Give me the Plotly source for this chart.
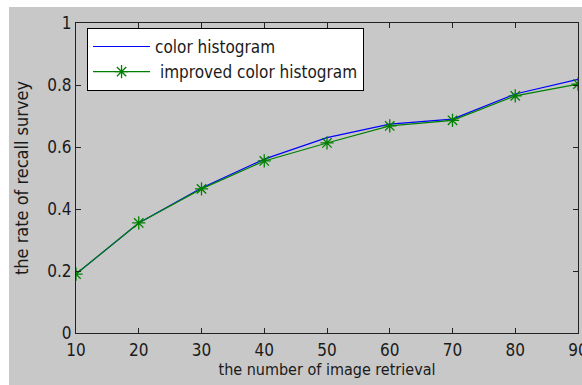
import plotly.graph_objects as go

x_vals = [10, 20, 30, 40, 50, 60, 70, 80, 90]
color_hist = [0.19, 0.355, 0.468, 0.561, 0.630, 0.674, 0.690, 0.771, 0.818]
improved_hist = [0.19, 0.355, 0.465, 0.555, 0.613, 0.668, 0.686, 0.765, 0.803]
y_ticks = [0, 0.2, 0.4, 0.6, 0.8, 1]
y_tick_text = ["0", "0.2", "0.4", "0.6", "0.8", "1"]

FONT = "Liberation Sans Narrow, DejaVu Sans Condensed, Arial Narrow, sans-serif"

fig = go.Figure()
fig.add_trace(go.Scatter(
    x=x_vals, y=color_hist, mode="lines", name="color histogram",
    line=dict(color="#0000ff", width=1.2),
))
fig.add_trace(go.Scatter(
    x=x_vals, y=improved_hist, mode="lines+markers", name=" improved color histogram",
    line=dict(color="#008000", width=1.2),
    marker=dict(symbol="asterisk-open", size=11, color="#008000",
                line=dict(color="#008000", width=1.3)),
))

fig.add_shape(type="rect", xref="paper", yref="paper",
              x0=-0.1335, x1=1.02, y0=-0.2, y1=1.052,
              fillcolor="#c8c8c8", line=dict(width=0), layer="below")

fig.update_layout(
    width=582, height=385,
    margin=dict(l=76, r=4, t=23, b=52),
    paper_bgcolor="white",
    plot_bgcolor="white",
    font=dict(family=FONT, size=17, color="#1a1a1a"),
    showlegend=True,
    legend=dict(
        x=0.022, y=0.984, xanchor="left", yanchor="top",
        bgcolor="white", bordercolor="#000000", borderwidth=1,
        font=dict(family=FONT, size=17, color="#1a1a1a"),
        itemwidth=57, tracegroupgap=0,
    ),
    xaxis=dict(
        range=[10, 90], tickvals=x_vals, ticks="inside", ticklen=5,
        showline=True, linecolor="#222", linewidth=1, mirror="ticks",
        showgrid=False, zeroline=False, tickcolor="#222",
        ticklabeloverflow="allow", automargin=False, ticklabelstandoff=2,
        title=dict(text="the number of image retrieval", standoff=4,
                   font=dict(family=FONT, size=16)),
    ),
    yaxis=dict(
        range=[0, 1], tickvals=y_ticks, ticktext=y_tick_text, ticks="inside", ticklen=5,
        showline=True, linecolor="#222", linewidth=1, mirror="ticks",
        showgrid=False, zeroline=False, tickcolor="#222",
        automargin=False,
        title=dict(text="the rate of recall survey", standoff=13,
                   font=dict(family=FONT, size=18)),
    ),
)

fig.write_html("out.html", config={"displayModeBar": False},
               post_script="document.body.style.margin='0';document.body.style.overflow='hidden';")
